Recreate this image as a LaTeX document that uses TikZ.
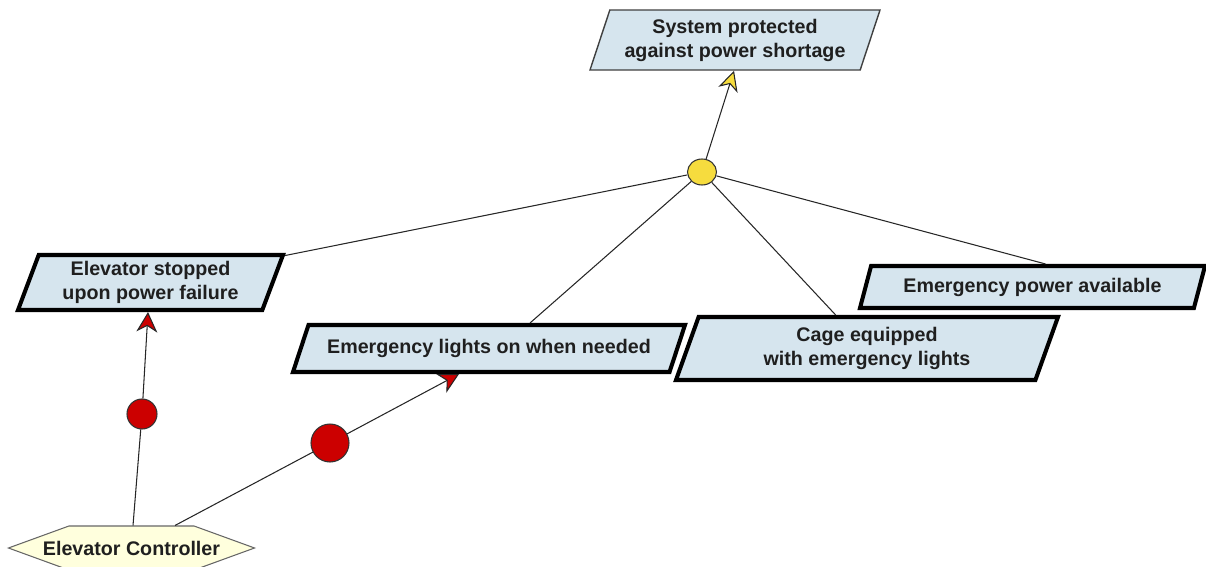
\documentclass[tikz,border=0pt]{standalone}
\usepackage{fontspec}
\setmainfont{Liberation Sans}
\usetikzlibrary{shapes.geometric,shapes.symbols}
\usetikzlibrary{arrows.meta,positioning}
\definecolor{goalblue}{HTML}{D6E5EE}
\definecolor{andyellow}{HTML}{F6DC3E}
\definecolor{opred}{HTML}{CC0000}
\definecolor{agentyellow}{HTML}{FFFFDD}
\tikzset{
	goal/.style={trapezium, trapezium stretches body=true, draw=black!75, fill=goalblue,
		line width=0.8pt, inner sep=0pt, align=center, text=black!88,
		font={\fontsize{11.2}{13.7}\selectfont\bfseries}},
	req/.style={goal, draw=black, line width=2.3pt},
	andnode/.style={ellipse, draw=black!80, fill=andyellow, line width=0.6pt,
		minimum width=0.58cm, minimum height=0.52cm, inner sep=0pt},
	opnode/.style={circle, draw=black!80, fill=opred, line width=0.6pt, inner sep=0pt},
	agent/.style={signal, signal to=west and east, signal pointer angle=40,
		draw=black!60, fill=agentyellow, line width=0.6pt,
		inner xsep=-0.52cm, inner ysep=0pt, minimum height=0.88cm, text=black!88,
		font={\fontsize{11.2}{13.7}\selectfont\bfseries}},
	link/.style={draw=black!85, line width=0.6pt},
	andarrow/.style={link, -{Stealth[length=0.4cm,width=0.4cm,inset=0.12cm,fill=andyellow]}},
	oparrow/.style={link, -{Stealth[length=0.4cm,width=0.42cm,inset=0.12cm,fill=opred]}}
}
\begin{document}
\begin{tikzpicture}[y=-1cm]
\useasboundingbox (0,0) rectangle (24.12,11.34);

% goals
\node[goal, minimum width=5.8cm, minimum height=1.2cm,
	trapezium left angle=65, trapezium right angle=115] (protected) at (14.7,0.8)
	{System protected\\against power shortage};
\node[req, minimum width=5.3cm, minimum height=1.1cm,
	trapezium left angle=64, trapezium right angle=116] (stopped) at (3.01,5.65)
	{Elevator stopped\\upon power failure};
\node[req, minimum width=7.84cm, minimum height=0.94cm,
	trapezium left angle=50, trapezium right angle=130] (lights) at (9.78,6.97)
	{Emergency lights on when needed};
\node[req, minimum width=7.64cm, minimum height=1.26cm,
	trapezium left angle=62, trapezium right angle=118] (cage) at (17.34,6.97)
	{Cage equipped\\with emergency lights};
\node[req, minimum width=6.9cm, minimum height=0.84cm,
	trapezium left angle=59, trapezium right angle=121] (power) at (20.65,5.74)
	{Emergency power available};

% refinement
\node[andnode] (and1) at (14.04,3.44) {};
\draw[andarrow] (and1) -- ([xshift=-0.02cm]protected.south);
\draw[link] (and1) -- (stopped);
\draw[link] (and1) -- ([xshift=0.82cm]lights.north);
\draw[link] (and1) -- (cage);
\draw[link] (and1) -- ([xshift=0.26cm]power.north);

% agent and operationalisations
\node[agent] (ctrl) at (2.63,10.96) {Elevator Controller};
\node[opnode, minimum size=0.6cm] (op1) at (2.84,8.28) {};
\node[opnode, minimum size=0.76cm] (op2) at (6.6,8.86) {};
\draw[link] ([xshift=0.03cm]ctrl.north) -- (op1);
\draw[oparrow] (op1) -- ([xshift=-0.05cm]stopped.south);
\draw[link] ([xshift=0.87cm]ctrl.north) -- (op2);
\draw[oparrow] (op2) -- ([xshift=-0.6cm]lights.south);
\end{tikzpicture}
\end{document}
